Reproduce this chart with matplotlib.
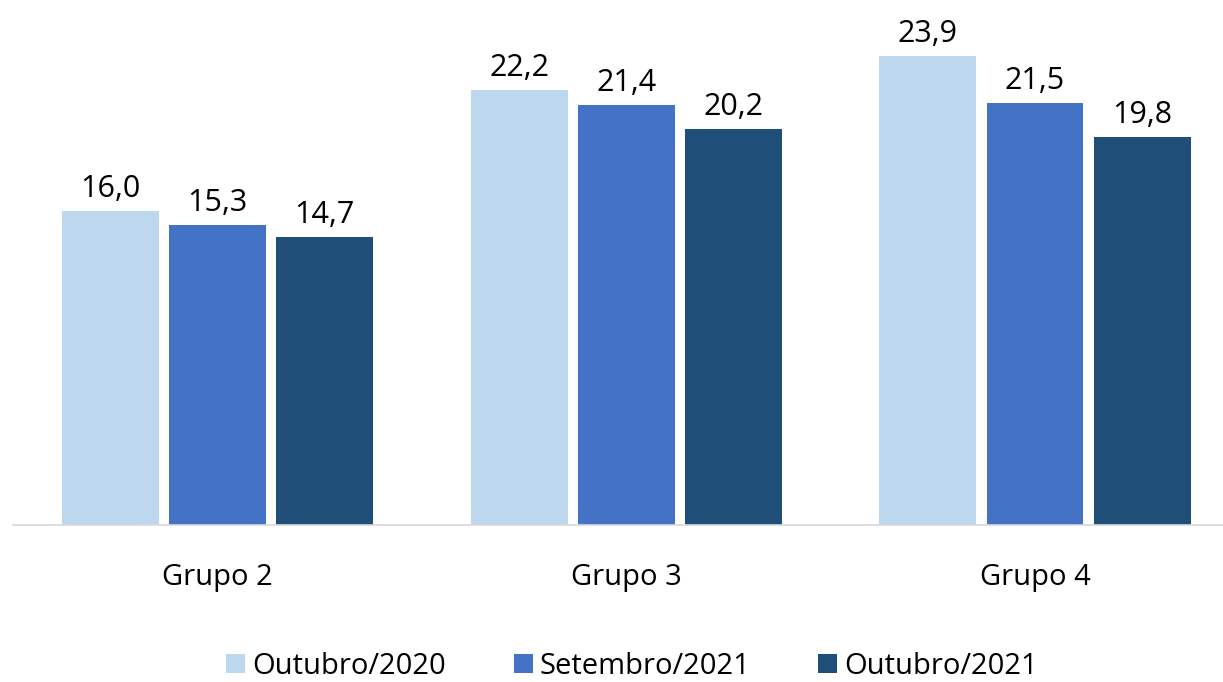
import matplotlib
matplotlib.use("Agg")
import matplotlib.pyplot as plt
import numpy as np

plt.rcParams['font.family'] = ['Open Sans', 'DejaVu Sans']

categories = ["Grupo 2", "Grupo 3", "Grupo 4"]
series_names = ["Outubro/2020", "Setembro/2021", "Outubro/2021"]
out2020 = [16.0, 22.2, 23.9]
set2021 = [15.3, 21.4, 21.5]
out2021 = [14.7, 20.2, 19.8]
colors = ["#BDD7EE", "#4472C4", "#1F4E79"]

fig = plt.figure(figsize=(12.23, 6.82), dpi=100)
ax = fig.add_axes([13/1223, 157/682, 1210/1223, 510/682])

x = np.arange(len(categories))
width = 0.237
offset = 0.262
for i, (vals, name, c) in enumerate(zip([out2020, set2021, out2021], series_names, colors)):
    pos = x + (i - 1) * offset
    bars = ax.bar(pos, vals, width, color=c, label=name)
    for b, v in zip(bars, vals):
        ax.text(b.get_x() + b.get_width() / 2, v + 0.35, f"{v:.1f}".replace(".", ","),
                ha="center", va="bottom", fontsize=22, color="#000000")

ax.set_xlim(-0.5, 2.46)
ax.set_ylim(0, 26)
ax.set_xticks(x)
ax.set_xticklabels(categories, fontsize=21)
ax.tick_params(axis="x", length=0, pad=27)
ax.set_yticks([])
for s in ["top", "right", "left"]:
    ax.spines[s].set_visible(False)
ax.spines["bottom"].set_color("#D9D9D9")
ax.spines["bottom"].set_linewidth(1.2)

leg = fig.legend(loc="center", bbox_to_anchor=(632/1223, 1 - 666/682), ncol=3, frameon=False,
                 fontsize=21, handlelength=0.65, handleheight=0.65, handletextpad=0.25,
                 columnspacing=2.3)

fig.savefig("out.png", dpi=100)
